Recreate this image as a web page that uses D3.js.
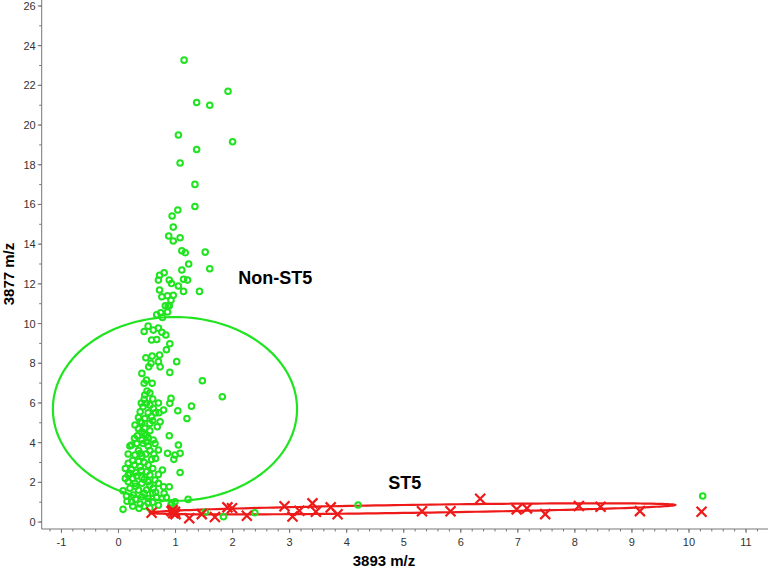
<!DOCTYPE html>
<html>
<head>
<meta charset="utf-8">
<script src="https://cdn.jsdelivr.net/npm/d3@7"></script>
<style>
  body { margin: 0; background: #fff; }
  svg { display: block; font-family: "Liberation Sans", Arial, sans-serif; }
</style>
</head>
<body>
<div id="chart"></div>
<script>
// Non-ST5 isolates: [3893 m/z, 3877 m/z]
var nonSt5Points = [
    [1.15, 23.27], [1.92, 21.7], [1.37, 21.14], [1.60, 21.0], [1.05, 19.5], [2.0, 19.16], [1.37, 18.77],
    [1.08, 18.09], [1.34, 17.01], [1.34, 15.9], [1.04, 15.72], [0.94, 15.42], [0.96, 14.86], [0.88, 14.41],
    [0.96, 14.16], [1.08, 14.32], [1.11, 13.67], [1.17, 13.57], [1.52, 13.6], [1.23, 13.0], [1.11, 12.7],
    [1.60, 12.76], [0.80, 12.56], [0.72, 12.43], [0.70, 12.19], [0.89, 12.19], [0.93, 12.02], [1.14, 12.23],
    [1.21, 12.19], [1.05, 11.89], [0.72, 11.69], [1.14, 11.62], [1.42, 11.62], [0.76, 11.35], [0.86, 11.4],
    [0.96, 11.42], [0.92, 11.18], [0.82, 10.9], [0.89, 10.9],
    [0.87, 10.88], [0.74, 10.54], [0.67, 10.44], [0.86, 10.58], [0.77, 10.31], [0.45, 9.6], [0.52, 9.87],
    [0.61, 9.67], [0.70, 9.77], [0.76, 9.56], [0.83, 9.42], [0.58, 9.17], [0.67, 9.2], [0.90, 8.98],
    [0.84, 8.68], [0.48, 8.28], [0.59, 8.36], [0.72, 8.41],
    [0.57, 8.0], [0.70, 8.08], [0.73, 7.82], [0.53, 7.82], [1.02, 8.08], [0.41, 7.49], [0.90, 7.54],
    [0.45, 6.99], [0.49, 7.15], [0.59, 6.99], [1.47, 7.12], [1.82, 6.31], [0.46, 6.4], [0.92, 6.23],
    [0.90, 5.98], [1.28, 5.84], [0.45, 6.18], [0.49, 5.98], [0.55, 5.89], [0.43, 5.81], [0.61, 5.73],
    [0.79, 5.64], [0.38, 5.56], [0.52, 5.51], [1.04, 5.61], [0.71, 5.51], [0.35, 5.27], [0.46, 5.22],
    [0.58, 5.31], [1.20, 5.22], [0.41, 5.0], [0.55, 4.97], [0.73, 5.05], [0.29, 4.89], [0.46, 4.72],
    [0.41, 4.55], [0.49, 4.38], [0.89, 4.35], [0.28, 4.22], [0.41, 4.13], [0.23, 3.88], [0.32, 3.96],
    [0.49, 4.05], [0.61, 4.13], [1.05, 3.88],
    [0.50, 6.6], [0.55, 6.5], [0.60, 6.2], [0.70, 6.0], [0.40, 6.0], [0.65, 5.5], [0.60, 5.1],
    [0.45, 4.45], [0.35, 4.7], [0.55, 4.6], [0.35, 3.6], [0.55, 3.6],
    [0.20, 3.83], [0.43, 3.96], [0.52, 3.83], [0.64, 3.96], [0.62, 3.43], [0.70, 3.63], [0.86, 3.46],
    [0.99, 3.38], [1.08, 3.46], [0.97, 3.16], [0.17, 3.43], [0.29, 3.38], [0.41, 3.32], [0.48, 3.43],
    [0.17, 2.96], [0.28, 2.87], [0.38, 2.79], [0.52, 2.87], [0.23, 2.65], [0.49, 2.53], [0.77, 2.62],
    [1.08, 2.50], [0.17, 2.37], [0.32, 2.32], [0.41, 2.25], [0.55, 2.37], [0.64, 2.12], [0.17, 2.03],
    [0.29, 1.95], [0.41, 1.95], [0.52, 2.03], [0.70, 1.95], [0.08, 1.58], [0.20, 1.70], [0.35, 1.61],
    [0.49, 1.61], [0.61, 1.70], [0.79, 1.78], [0.89, 1.78], [0.14, 1.31], [0.26, 1.36], [0.41, 1.27],
    [0.52, 1.19], [0.67, 1.24], [0.76, 1.19], [0.84, 1.24], [1.22, 1.14], [0.23, 1.02], [0.38, 0.91],
    [0.52, 0.97], [0.93, 0.97], [0.99, 1.02], [0.08, 0.64], [0.36, 0.69],
    [0.25, 3.1], [0.35, 3.05], [0.45, 3.0], [0.65, 3.2], [0.30, 2.5], [0.40, 2.6], [0.60, 2.7],
    [0.25, 2.2], [0.45, 2.15], [0.30, 1.8], [0.55, 1.85], [0.45, 1.45], [0.60, 1.45], [0.30, 1.15],
    [0.60, 1.0], [0.70, 0.85], [0.45, 0.8], [0.25, 0.8], [0.55, 0.7],
    [0.12, 2.7], [0.12, 2.2], [0.20, 2.45], [0.70, 2.4], [0.65, 1.5], [0.80, 1.45], [0.15, 1.05],
    [0.38, 3.45], [0.58, 3.15], [0.33, 4.35], [0.52, 4.25], [0.38, 5.05], [0.68, 4.8],
    [0.92, 0.86], [1.52, 0.50], [1.84, 0.27], [2.39, 0.47], [4.2, 0.86], [10.24, 1.31]
];

// ST5 isolates
var st5Points = [
    [0.58, 0.47], [0.93, 0.55], [0.96, 0.45], [0.99, 0.52], [1.00, 0.40], [0.95, 0.60], [1.24, 0.19],
    [1.46, 0.40], [1.69, 0.25], [1.91, 0.74], [1.99, 0.70], [2.25, 0.32], [2.91, 0.80], [3.05, 0.28],
    [3.17, 0.57], [3.40, 0.94], [3.46, 0.52], [3.72, 0.74], [3.84, 0.39], [5.32, 0.54], [5.82, 0.54],
    [6.34, 1.17], [6.98, 0.64], [7.16, 0.69], [7.48, 0.40], [8.07, 0.81], [8.45, 0.77], [9.14, 0.55],
    [10.22, 0.52]
];

// group ellipses: centre, first and second semi-axis vectors (data units)
var nonSt5Ellipse = [0.99, 5.7, 2.14, 0, 0, 4.63];
var st5Ellipse = [5.155, 0.665, 4.605, 0.195, 0, 0.2];

var xTicks = d3.range(-1, 12, 1);
var yTicks = d3.range(0, 27, 2);

var width = 770, height = 568;
var green = '#1fe41f', red = '#ee1a1a';

var svg = d3.select('#chart').append('svg')
    .attr('width', width)
    .attr('height', height);

var x = d3.scaleLinear().domain([-1.346, 11.385]).range([41.7, 768]);
var y = d3.scaleLinear().domain([-0.35, 26.3]).range([529, 0]);

// axes
var xAxis = svg.append('g').attr('transform', 'translate(0,529)');
xAxis.append('line').attr('x1', 41.7).attr('x2', 768).attr('stroke', '#777');
xAxis.selectAll('.minor').data(d3.range(-1.2, 11.3, 0.2)).join('line')
    .attr('x1', function (d) { return x(d); }).attr('x2', function (d) { return x(d); })
    .attr('y1', 0).attr('y2', 2.5).attr('stroke', '#777');
xAxis.selectAll('.major').data(xTicks).join('line')
    .attr('x1', function (d) { return x(d); }).attr('x2', function (d) { return x(d); })
    .attr('y1', 0).attr('y2', 4).attr('stroke', '#777');
xAxis.selectAll('text').data(xTicks).join('text')
    .attr('x', function (d) { return x(d); }).attr('y', 17)
    .attr('text-anchor', 'middle').attr('fill', '#333').style('font-size', '11px')
    .text(function (d) { return d; });

var yAxis = svg.append('g').attr('transform', 'translate(41.7,0)');
yAxis.append('line').attr('y1', 0).attr('y2', 529).attr('stroke', '#777');
yAxis.selectAll('.minor').data(d3.range(0, 27, 1)).join('line')
    .attr('y1', function (d) { return y(d); }).attr('y2', function (d) { return y(d); })
    .attr('x1', 0).attr('x2', -2.5).attr('stroke', '#777');
yAxis.selectAll('.major').data(yTicks).join('line')
    .attr('y1', function (d) { return y(d); }).attr('y2', function (d) { return y(d); })
    .attr('x1', 0).attr('x2', -4).attr('stroke', '#777');
yAxis.selectAll('text').data(yTicks).join('text')
    .attr('x', -6).attr('y', function (d) { return y(d) + 4; })
    .attr('text-anchor', 'end').attr('fill', '#333').style('font-size', '11px')
    .text(function (d) { return d; });

svg.append('text').attr('x', 384).attr('y', 566)
    .attr('text-anchor', 'middle').style('font-size', '15px').style('font-weight', '700')
    .text('3893 m/z');
svg.append('text').attr('transform', 'translate(14,274) rotate(-90)')
    .attr('text-anchor', 'middle').style('font-size', '15px').style('font-weight', '700')
    .text('3877 m/z');

// ellipses
function ellipsePath(e) {
    var pts = d3.range(0, 361, 2).map(function (a) {
        var t = a * Math.PI / 180;
        return [x(e[0] + e[2] * Math.cos(t) + e[4] * Math.sin(t)),
                y(e[1] + e[3] * Math.cos(t) + e[5] * Math.sin(t))];
    });
    return d3.line()(pts) + 'Z';
}
svg.append('path').attr('d', ellipsePath(nonSt5Ellipse))
    .attr('fill', 'none').attr('stroke', green).attr('stroke-width', 2.2);
svg.append('path').attr('d', ellipsePath(st5Ellipse))
    .attr('fill', 'none').attr('stroke', red).attr('stroke-width', 2.2);

// points
svg.append('g').selectAll('circle').data(nonSt5Points).join('circle')
    .attr('cx', function (d) { return x(d[0]); })
    .attr('cy', function (d) { return y(d[1]); })
    .attr('r', 2.8)
    .attr('fill', 'none')
    .attr('stroke', green)
    .attr('stroke-width', 2);

var s = 5;
svg.append('g').selectAll('path').data(st5Points).join('path')
    .attr('d', function (d) {
        var cx = x(d[0]), cy = y(d[1]);
        return 'M' + (cx - s) + ',' + (cy - s) + 'L' + (cx + s) + ',' + (cy + s) +
               'M' + (cx - s) + ',' + (cy + s) + 'L' + (cx + s) + ',' + (cy - s);
    })
    .attr('stroke', red)
    .attr('stroke-width', 2.2)
    .attr('fill', 'none');

// group labels
svg.append('text').attr('x', x(2.1)).attr('y', y(12.0))
    .style('font-size', '18px').style('font-weight', '700').text('Non-ST5');
svg.append('text').attr('x', x(4.73)).attr('y', y(1.66))
    .style('font-size', '18px').style('font-weight', '700').text('ST5');
</script>
</body>
</html>
